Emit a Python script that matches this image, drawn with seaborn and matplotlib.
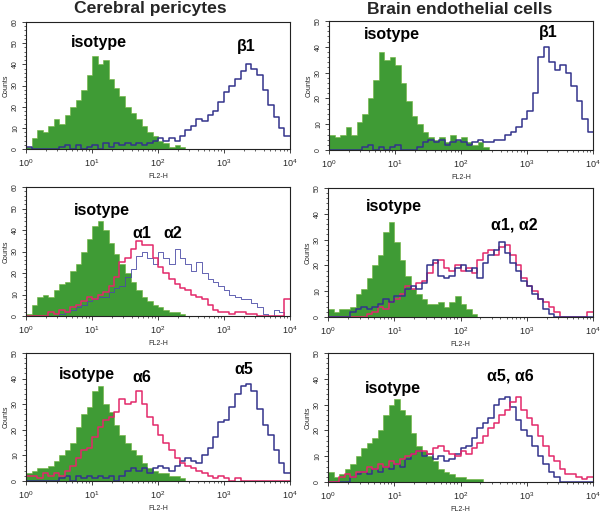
import numpy as np
import pandas as pd
import matplotlib
matplotlib.use("Agg")
import matplotlib.pyplot as plt
import seaborn as sns

# ---------------- data (counts per log-channel bin, 12 bins per decade, 10^0..10^4) ----------------
col_titles = ["Cerebral pericytes", "Brain endothelial cells"]
decade_labels = ["$10^0$", "$10^1$", "$10^2$", "$10^3$", "$10^4$"]

# Panel A: pericytes, isotype vs beta1
peri_iso_1 = [1, 5, 9, 8, 11, 14, 12, 16, 20, 23, 28, 35, 44, 40, 42, 33, 29, 25, 20, 17, 14, 11, 8, 6,
              4, 3, 1, 2, 1, 0, 0, 0, 0, 0, 0, 0, 0, 0, 0, 0, 0, 0, 0, 0, 0, 0, 0, 0]
peri_b1 = [1, 0, 0, 0, 0, 0, 1, 2, 0, 2, 0, 1, 2, 0, 3, 1, 3, 2, 3, 2, 3, 2, 3, 4,
           5, 4, 5, 4, 6, 9, 11, 14, 13, 16, 18, 22, 27, 30, 33, 37, 40, 38, 35, 28, 21, 15, 10, 6]

# Panel B: endothelial, isotype vs beta1
endo_iso_1 = [6, 5, 6, 9, 6, 11, 14, 20, 27, 38, 35, 36, 33, 26, 19, 13, 10, 7, 5, 4, 5, 3, 6, 4,
              5, 3, 2, 3, 1, 0, 0, 0, 0, 0, 0, 0, 0, 0, 0, 0, 0, 0, 0, 0, 0, 0, 0, 0]
endo_b1 = [0, 0, 0, 0, 0, 0, 1, 2, 0, 1, 0, 1, 2, 0, 0, 0, 1, 3, 4, 3, 4, 2, 3, 4,
           3, 2, 3, 4, 3, 3, 4, 4, 6, 7, 9, 12, 15, 22, 36, 40, 34, 31, 33, 30, 25, 19, 12, 7]

# Panel C: pericytes, isotype vs alpha1 / alpha2
peri_iso_2 = [1, 5, 9, 10, 9, 12, 15, 16, 21, 24, 30, 36, 42, 44, 40, 34, 29, 24, 20, 16, 12, 9, 7, 5,
              4, 3, 2, 2, 1, 0, 0, 0, 0, 0, 0, 0, 0, 0, 0, 0, 0, 0, 0, 0, 0, 0, 0, 0]
peri_a1 = [0, 0, 0, 0, 2, 1, 3, 2, 4, 5, 7, 9, 8, 10, 11, 14, 18, 25, 27, 31, 35, 33, 33, 27,
           23, 20, 17, 15, 13, 12, 10, 9, 8, 5, 3, 2, 2, 1, 2, 2, 1, 1, 0, 0, 0, 0, 0, 8]
peri_a2 = [0, 0, 0, 0, 0, 0, 1, 2, 3, 4, 5, 7, 8, 9, 9, 11, 13, 14, 18, 22, 28, 30, 27, 24,
           30, 27, 24, 31, 27, 24, 21, 25, 20, 17, 16, 14, 12, 10, 9, 8, 8, 6, 4, 1, 0, 3, 2, 0]

# Panel D: endothelial, isotype vs alpha1 / alpha2
endo_iso_2 = [3, 2, 3, 3, 4, 9, 11, 15, 20, 24, 33, 37, 29, 22, 16, 11, 9, 7, 5, 5, 6, 4, 6, 8,
              5, 3, 1, 0, 0, 0, 0, 0, 0, 0, 0, 0, 0, 0, 0, 0, 0, 0, 0, 0, 0, 0, 0, 0]
endo_a1 = [0, 0, 0, 0, 0, 0, 0, 1, 2, 4, 3, 6, 7, 9, 12, 11, 13, 14, 17, 21, 22, 19, 18, 20,
           18, 19, 17, 22, 25, 26, 24, 27, 28, 24, 20, 15, 12, 10, 7, 6, 4, 2, 0, 0, 0, 0, 0, 2]
endo_a2 = [0, 0, 0, 0, 2, 3, 4, 3, 4, 5, 7, 6, 8, 8, 11, 12, 11, 13, 20, 22, 16, 15, 16, 19,
           20, 18, 19, 15, 21, 24, 26, 29, 25, 21, 18, 14, 12, 9, 7, 3, 1, 0, 0, 0, 0, 0, 0, 0]

# Panel E: pericytes, isotype vs alpha6 / alpha5
peri_iso_3 = [3, 4, 5, 5, 6, 8, 10, 12, 15, 21, 26, 29, 35, 37, 30, 27, 22, 18, 15, 12, 10, 7, 5, 4,
              3, 3, 2, 2, 1, 0, 0, 0, 0, 0, 0, 0, 0, 0, 0, 0, 0, 0, 0, 0, 0, 0, 0, 0]
peri_a6 = [2, 2, 1, 3, 2, 3, 2, 4, 6, 9, 12, 13, 17, 21, 24, 25, 27, 32, 30, 31, 35, 30, 25, 22,
           18, 15, 12, 9, 7, 6, 5, 4, 3, 2, 1, 2, 1, 0, 1, 0, 0, 0, 0, 0, 0, 0, 0, 0]
peri_a5 = [0, 0, 0, 0, 0, 0, 1, 2, 0, 2, 1, 2, 1, 2, 1, 2, 0, 2, 4, 5, 4, 5, 3, 5,
           6, 5, 4, 6, 8, 9, 8, 7, 10, 13, 17, 23, 24, 29, 34, 37, 38, 35, 28, 22, 18, 12, 7, 3]

# Panel F: endothelial, isotype vs alpha5 / alpha6
endo_iso_3 = [4, 2, 3, 5, 7, 10, 13, 15, 17, 20, 26, 30, 32, 28, 26, 19, 14, 12, 10, 8, 5, 4, 3, 2,
              2, 1, 1, 1, 0, 0, 0, 0, 0, 0, 0, 0, 0, 0, 0, 0, 0, 0, 0, 0, 0, 0, 0, 0]
endo_a6 = [0, 0, 2, 3, 2, 4, 4, 6, 5, 7, 6, 8, 7, 9, 10, 11, 12, 12, 11, 13, 14, 12, 11, 10,
           12, 11, 13, 15, 18, 21, 23, 26, 28, 31, 33, 28, 25, 22, 18, 14, 10, 8, 5, 3, 3, 2, 1, 2]
endo_a5 = [0, 0, 0, 0, 2, 3, 4, 3, 5, 4, 6, 5, 7, 6, 9, 11, 12, 10, 11, 9, 10, 8, 9, 11,
           13, 14, 17, 21, 23, 25, 30, 32, 33, 29, 24, 20, 18, 14, 10, 7, 4, 2, 0, 0, 0, 0, 0, 0]

# ---------------- styling ----------------
sns.set_style("ticks")
plt.rcParams["font.family"] = ["Liberation Sans", "DejaVu Sans"]
plt.rcParams["mathtext.fontset"] = "custom"
plt.rcParams["mathtext.rm"] = "Liberation Sans"
plt.rcParams["mathtext.it"] = "Liberation Sans"

GREEN = "#3f9b35"
GREEN_EDGE = "#6fb33a"
BLUE = "#33338c"
BLUE_THIN = "#4a4aa6"
PINK = "#e3286a"

N_BINS = 48
centers = (np.arange(N_BINS) + 0.5) * 4.0 / N_BINS   # bin centres in log10 units

fig = plt.figure(figsize=(6.0, 5.12), dpi=100)
W, H = 600.0, 512.0


def make_ax(l, t, r, b):
    return fig.add_axes([l / W, 1 - b / H, (r - l) / W, (b - t) / H])


def hist(ax, counts, **kw):
    df = pd.DataFrame({"pos": centers, "count": np.asarray(counts, dtype=float)})
    sns.histplot(data=df, x="pos", weights="count", bins=N_BINS, binrange=(0, 4),
                 element="step", ax=ax, **kw)


panels = [
    ((26, 22, 290, 149), 60, peri_iso_1, [(peri_b1, BLUE, 1.1)],
     [("isotype", 99, 42), ("β1", 246, 47)]),
    ((329, 21, 593, 150), 50, endo_iso_1, [(endo_b1, BLUE, 1.1)],
     [("isotype", 392, 35), ("β1", 548, 33)]),
    ((26, 187, 290, 316), 60, peri_iso_2, [(peri_a2, BLUE_THIN, 0.6), (peri_a1, PINK, 1.1)],
     [("isotype", 102, 210), ("α1", 142, 233), ("α2", 173, 233)]),
    ((328, 188, 593, 317), 50, endo_iso_2, [(endo_a1, PINK, 1.1), (endo_a2, BLUE, 1.1)],
     [("isotype", 394, 206), ("α1, α2", 514, 225)]),
    ((26, 353, 290, 481), 50, peri_iso_3, [(peri_a5, BLUE, 1.1), (peri_a6, PINK, 1.1)],
     [("isotype", 87, 375), ("α6", 142, 378), ("α5", 244, 370)]),
    ((328, 353, 593, 482), 50, endo_iso_3, [(endo_a5, BLUE, 1.1), (endo_a6, PINK, 1.1)],
     [("isotype", 393, 388), ("α5, α6", 510, 376)]),
]

minor_pos = [k + np.log10(m) for k in range(4) for m in range(2, 10)]

for rect, ymax, iso, lines, labels in panels:
    ax = make_ax(*rect)
    hist(ax, iso, fill=True, color=GREEN, alpha=1.0, edgecolor=GREEN_EDGE, linewidth=0.4)
    for data, colr, lw in lines:
        hist(ax, data, fill=False, color=colr, linewidth=lw)
    ax.set_xlim(0, 4)
    ax.set_ylim(0, ymax)
    ax.set_xticks(range(5))
    ax.set_xticklabels(decade_labels, fontsize=6.5)
    ax.set_xticks(minor_pos, minor=True)
    ax.set_yticks(range(0, ymax + 1, 10))
    ax.set_yticks(range(0, ymax + 1, 2), minor=True)
    ax.set_yticklabels([str(v) for v in range(0, ymax + 1, 10)], fontsize=5, rotation=90, va="center")
    ax.tick_params(axis="both", which="major", length=3, width=0.6, pad=2, color="#222222")
    ax.tick_params(axis="both", which="minor", length=1.5, width=0.5, color="#222222")
    ax.tick_params(axis="x", which="major", pad=3)
    ax.set_xlabel("FL2-H", fontsize=5, labelpad=3)
    ax.set_ylabel("Counts", fontsize=5, labelpad=2)
    for sp in ax.spines.values():
        sp.set_visible(True)
        sp.set_linewidth(0.8)
        sp.set_color("#222222")
    for txt, x, y in labels:
        fig.text(x / W, 1 - y / H, txt, ha="center", va="center", fontsize=11.5,
                 fontweight="bold", color="black")

fig.text(150 / W, 1 - 9 / H, col_titles[0], ha="center", va="center", fontsize=12.6, fontweight="bold")
fig.text(460 / W, 1 - 9 / H, col_titles[1], ha="center", va="center", fontsize=12.6, fontweight="bold")

fig.savefig("out.png", dpi=100)
